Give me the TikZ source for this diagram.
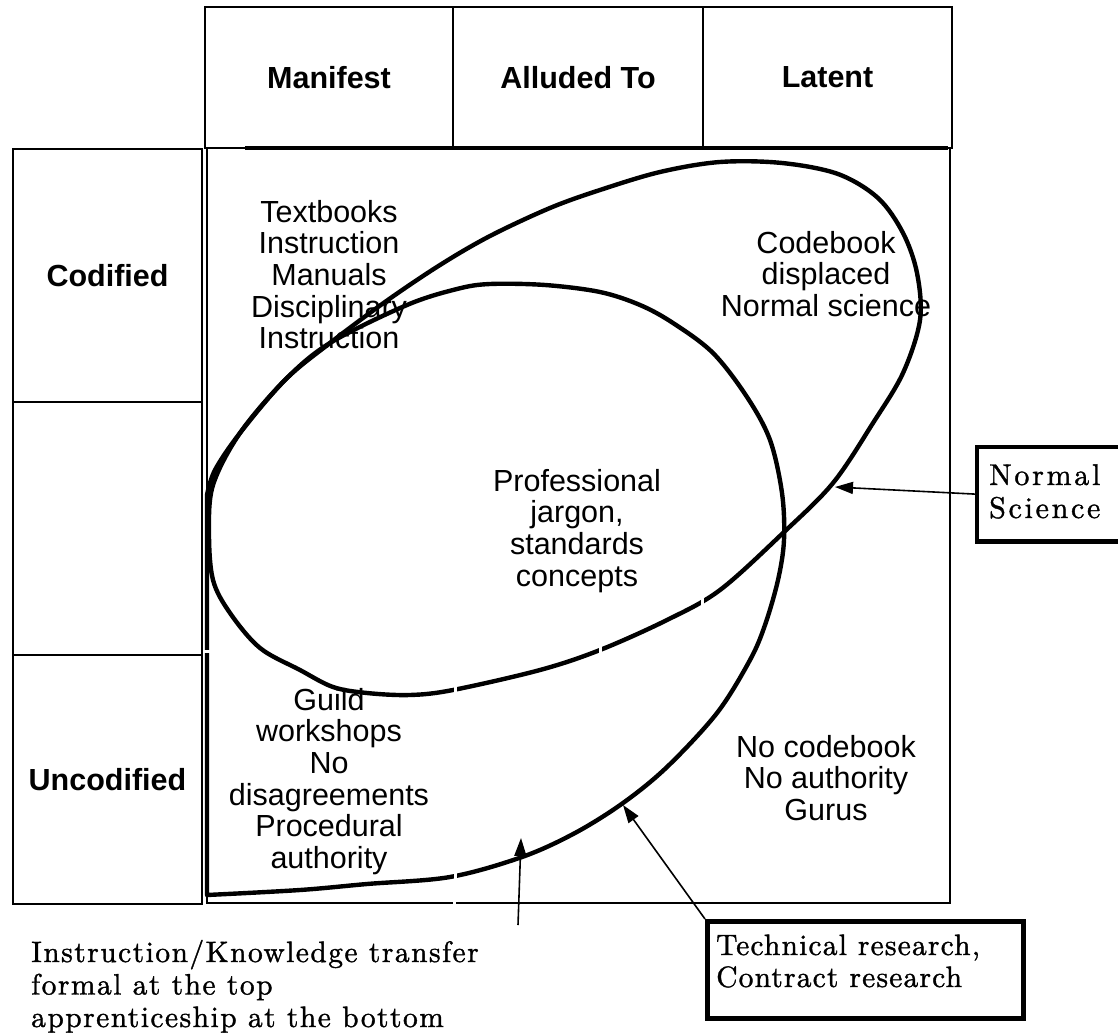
\documentclass[tikz,border=0pt]{standalone}
\usepackage{fontspec}
\usetikzlibrary{arrows.meta}
\newfontfamily\lsans{Liberation Sans}
\newfontfamily\serA{lmroman10-regular.otf}[LetterSpace=5,FakeBold=1.2]
\newfontfamily\serB{lmroman10-regular.otf}[LetterSpace=4,FakeBold=1.2]
\newfontfamily\serC{lmroman10-regular.otf}[LetterSpace=9,FakeBold=1.2]
\newcommand\sanstxt{\lsans\fontsize{30.5}{31.7}\selectfont}
\newcommand\sanshead{\lsans\bfseries\fontsize{30.5}{32}\selectfont}
\newcommand\sertxt{\serA\fontsize{29.5}{32.5}\selectfont}
\newcommand\sertxtb{\serB\fontsize{29.5}{32}\selectfont}
\newcommand\sertxtc{\serC\fontsize{30}{33}\selectfont}
\newcommand\stackc[1]{\begin{tabular}[t]{@{}c@{}}#1\end{tabular}}
\newcommand\stackl[1]{\begin{tabular}[t]{@{}l@{}}#1\end{tabular}}
\begin{document}
\begin{tikzpicture}[x=1pt,y=-1pt,
  cell/.style={draw,line width=2pt,inner sep=0pt,font=\sanshead},
  curve/.style={line width=4.4pt,line join=round,line cap=round},
  gapw/.style={white,line width=3pt},
  arr/.style={line width=1.6pt,-{Triangle[length=18pt,width=12pt]}},
  lblbox/.style={draw,line width=4.5pt,inner sep=0pt,anchor=north west},
  openbox/.style={line width=4.5pt},
  body/.style={font=\sanstxt,inner sep=0pt,anchor=base},
  note/.style={inner sep=0pt,anchor=base west},
]
\useasboundingbox (0,0) rectangle (1118,1035);
\clip (0,0) rectangle (1118,1035);

% header cells
\node[cell,minimum width=248pt,minimum height=141pt] (hm) at (329,77.5) {Manifest};
\node[cell,minimum width=250pt,minimum height=141pt] (ha) at (578,77.5) {Alluded To};
\node[cell,minimum width=249pt,minimum height=141pt] (hl) at (827.5,77.5) {Latent};
% left column cells
\node[cell,minimum width=189pt,minimum height=253pt] (lc) at (107.5,275.5) {Codified};
\node[cell,minimum width=189pt,minimum height=253pt] (lm) at (107.5,528.5) {};
\node[cell,minimum width=189pt,minimum height=249pt] (lu) at (107.5,779.5) {Uncodified};
% main area
\node[cell,minimum width=743pt,minimum height=755pt] (main) at (578.5,525.5) {};
\draw[line width=4pt] (245,148) -- (948,148);

% texts in the grid
\node[body] (tb) at (329,222) {\stackc{Textbooks\\Instruction\\Manuals\\Disciplinary\\Instruction}};
\node[body] (cb) at (826,253) {\stackc{Codebook\\displaced\\Normal science}};
\node[body] (pj) at (577,491) {\stackc{Professional\\jargon,\\standards\\concepts}};
\node[body] (gw) at (329,710) {\stackc{Guild\\workshops\\No\\disagreements\\Procedural\\authority}};
\node[body] (nc) at (826,757) {\stackc{No codebook\\No authority\\Gurus}};

% curve A (normal science)
\draw[curve] plot[smooth cycle,tension=0.55] coordinates {
 (720,162) (782,163) (838,174) (878,198) (903,233) (917,273) (920,320)
 (903,373) (873,423) (833,483) (783,533) (720,590) (667,620) (600,650)
 (540,670) (453,690) (410,695) (367,693) (333,687) (300,670) (260,648)
 (230,613) (213,580) (209,533) (213,485) (240,433) (285,380)
 (330,343) (385,302) (440,265) (490,236) (550,208) (600,190) (660,172)};
% curve B (technical research)
\draw[curve] (207,895) -- (207,495) -- plot[smooth,tension=0.55] coordinates {
 (207,495) (215,470) (240,433) (285,380) (330,343) (407,305)
 (457,289) (490,284) (545,285) (600,292) (640,305) (673,323) (713,353)
 (747,397) (770,440) (782,493) (784,540) (778,580) (765,625) (750,660)
 (717,713) (667,767) (623,803) (575,833) (522,857) (450,877) (367,884)
 (300,890) (207,895)} -- cycle;

% small white breaks
\draw[gapw] (455,680) -- (455,702);
\draw[gapw] (455,866) -- (455,890);
\draw[gapw] (454,897) -- (454,909);
\draw[gapw] (702,588) -- (702,614);
\draw[gapw] (600,640) -- (600,662);
\draw[gapw] (204,651) -- (212,651);

% labelled boxes
\node[lblbox,minimum width=316pt,minimum height=97pt] (tr) at (705,919) {};
\node[inner sep=0pt,anchor=north west,minimum width=200pt,minimum height=94pt] (ns) at (977,447) {};
\draw[openbox] (ns.north east) -- (ns.north west) -- (ns.south west) -- (ns.south east);
\node[note,font=\sertxtc] (nst) at (989,485) {\stackl{Normal\\Science}};
\node[note,font=\sertxtb] (trt) at (716,955) {\stackl{Technical research,\\Contract research}};
\node[note,font=\sertxt] (bt) at (31,962) {\stackl{Instruction/Knowledge transfer\\formal at the top\\apprenticeship at the bottom}};

% arrows
\coordinate (nsTip) at (835,487);
\coordinate (trTip) at (623,805);
\coordinate (btStart) at (518,925);
\coordinate (btTip) at (521,838);
\draw[arr] (ns.west) -- (nsTip);
\draw[arr] (tr.north west) -- (trTip);
\draw[arr] (btStart) -- (btTip);
\end{tikzpicture}
\end{document}
